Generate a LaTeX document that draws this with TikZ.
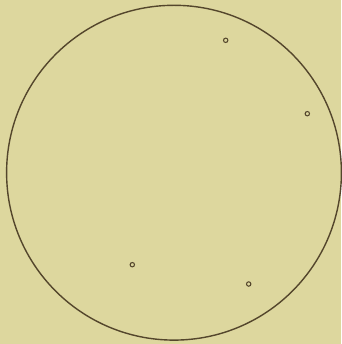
\documentclass[tikz,border=0pt]{standalone}
\usepackage{tikz}
\usetikzlibrary{backgrounds}
\definecolor{paper}{RGB}{221,215,158}
\definecolor{ink}{RGB}{84,70,44}

\begin{document}
\begin{tikzpicture}[
  x=1pt, y=-1pt,
  field/.style={draw=ink,line width=1.4pt},
  speck/.style={circle,draw=ink,line width=1.05pt,inner sep=0pt,minimum size=4.4pt},
]
\fill[paper] (0,0) rectangle (341,344);
\useasboundingbox (0,0) rectangle (341,344);
\draw[field] (174,172.7) circle[radius=167.4];
% the four specks inside the field
\node[speck] (s1) at (225.7,40.3) {};
\node[speck] (s2) at (307.3,113.7) {};
\node[speck] (s3) at (132.3,264.7) {};
\node[speck] (s4) at (248.7,284.0) {};
\end{tikzpicture}
\end{document}
